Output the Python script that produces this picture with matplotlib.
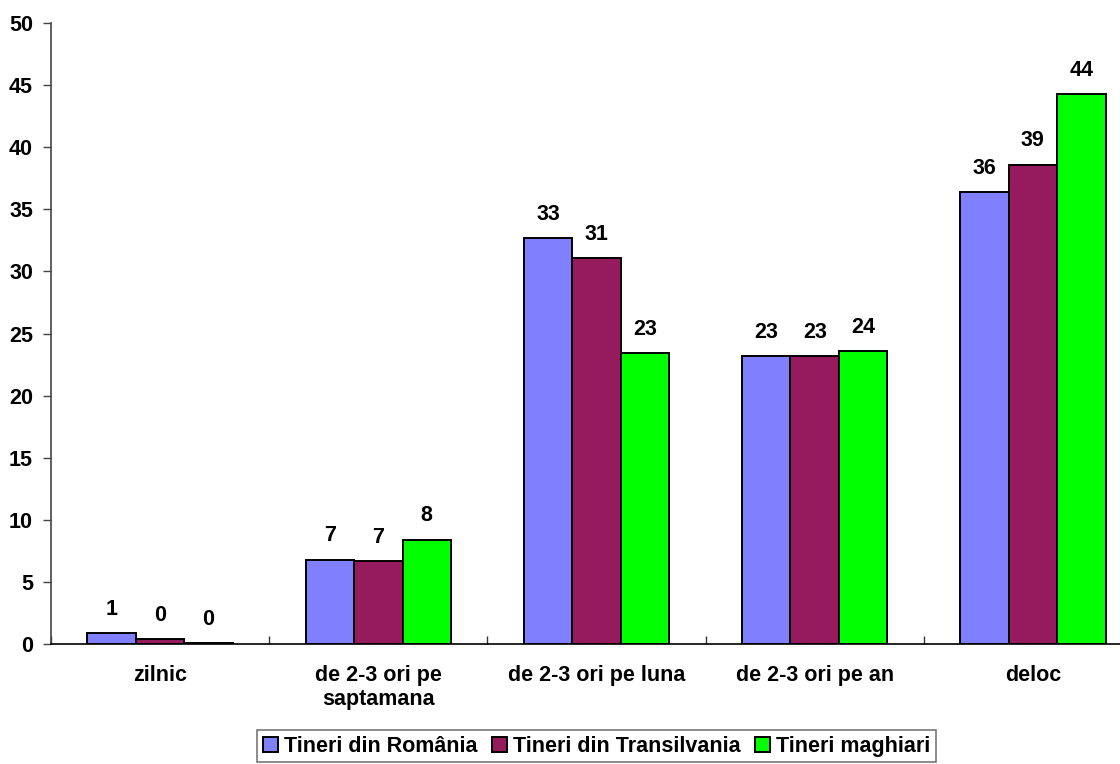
import matplotlib
matplotlib.use("Agg")
import matplotlib.pyplot as plt
import numpy as np

categories = ["zilnic", "de 2-3 ori pe\nsaptamana", "de 2-3 ori pe luna", "de 2-3 ori pe an", "deloc"]
series_names = ["Tineri din România", "Tineri din Transilvania", "Tineri maghiari"]
romania = [0.9, 6.8, 32.7, 23.2, 36.4]
transilvania = [0.4, 6.7, 31.1, 23.2, 38.6]
maghiari = [0.1, 8.4, 23.4, 23.6, 44.3]
labels_romania = ["1", "7", "33", "23", "36"]
labels_transilvania = ["0", "7", "31", "23", "39"]
labels_maghiari = ["0", "8", "23", "24", "44"]
colors = ["#8080FF", "#961B5E", "#00FF00"]
yticks = [0, 5, 10, 15, 20, 25, 30, 35, 40, 45, 50]

plt.rcParams['font.family'] = ['Liberation Sans', 'DejaVu Sans']
plt.rcParams['font.weight'] = 'bold'
FS = 15.5

W, H = 1120, 764
fig = plt.figure(figsize=(W / 100, H / 100), dpi=100)
ax_left, ax_bottom = 51, 644
ax_w, ax_h = 1091, 621
ax = fig.add_axes([ax_left / W, (H - ax_bottom) / H, ax_w / W, ax_h / H])

x = np.arange(len(categories))
bw = 1 / 4.5
all_vals = [romania, transilvania, maghiari]
all_labels = [labels_romania, labels_transilvania, labels_maghiari]
for i, (vals, labs, c, name) in enumerate(zip(all_vals, all_labels, colors, series_names)):
    pos = x + (i - 1) * bw
    ax.bar(pos, vals, width=bw, color=c, edgecolor="black", linewidth=1.4, label=name)
    for p, v, l in zip(pos, vals, labs):
        ax.annotate(l, (p, v), xytext=(0, 9.5), textcoords="offset points",
                    ha="center", va="bottom", fontsize=FS, fontweight="bold")

ax.set_xlim(-0.5, len(categories) - 0.5)
ax.set_ylim(0, 50)
ax.set_yticks(yticks)
ax.set_yticklabels([str(t) for t in yticks], fontsize=FS, fontweight="bold")
ax.tick_params(axis="y", direction="out", length=6, width=1, color="#444444", pad=7)

ax.set_xticks(np.arange(-0.5, len(categories), 1.0), minor=False)
ax.set_xticklabels([])
ax.tick_params(axis="x", which="major", direction="in", length=6, width=1, color="#333333")
ax.set_xticks(x, minor=True)
ax.set_xticklabels(categories, minor=True, fontsize=FS, fontweight="bold")
ax.tick_params(axis="x", which="minor", length=0, pad=15)

for s in ["top", "right"]:
    ax.spines[s].set_visible(False)
ax.spines["left"].set_color("#444444")
ax.spines["left"].set_linewidth(1.2)
ax.spines["bottom"].set_color("black")
ax.spines["bottom"].set_linewidth(1.2)

leg = fig.legend(loc="lower center", bbox_to_anchor=((ax_left + ax_w / 2) / W, 2 / H),
                 ncol=3, fontsize=FS, frameon=True, fancybox=False, edgecolor="#555555",
                 handlelength=0.7, handleheight=0.7, handletextpad=0.3, columnspacing=0.65,
                 borderpad=0.25, borderaxespad=0)
leg.get_frame().set_linewidth(1.2)
for t in leg.get_texts():
    t.set_fontweight("bold")

fig.savefig("out.png", dpi=100)
